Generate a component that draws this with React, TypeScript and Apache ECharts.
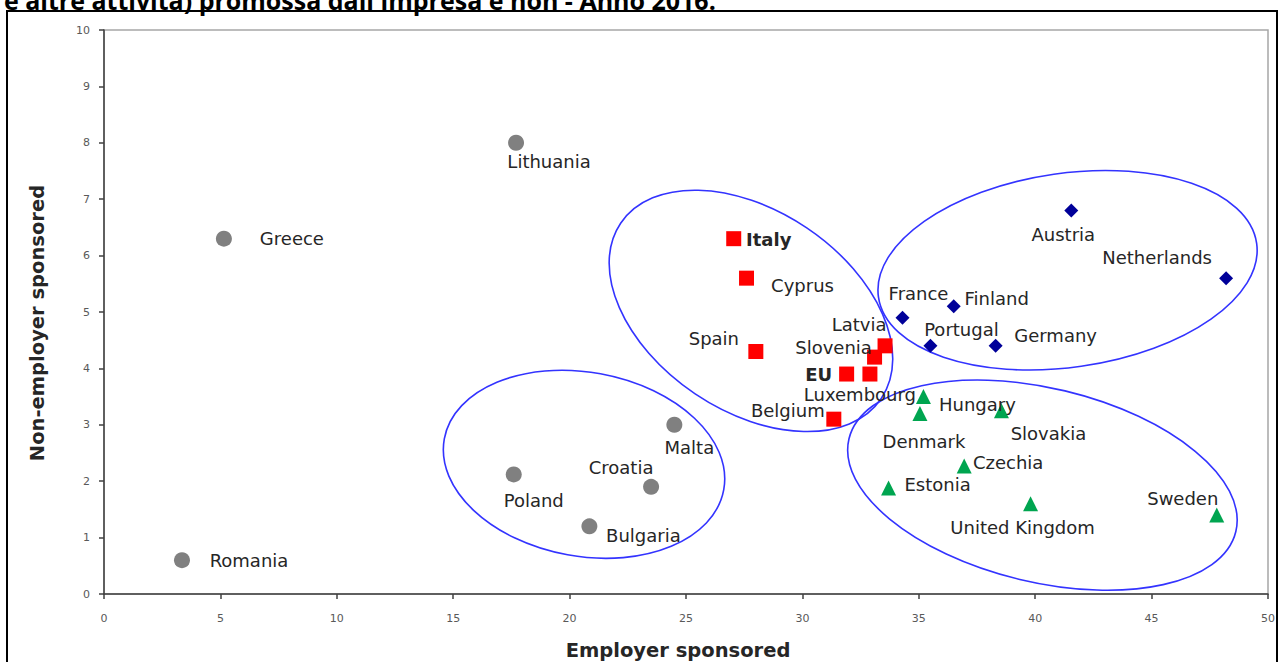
import React, { useEffect, useRef } from "react";
import * as echarts from "echarts";

// ---- data ----
const otherNames = ["Lithuania", "Greece", "Romania", "Malta", "Croatia", "Poland", "Bulgaria"];
const otherX = [17.7, 5.15, 3.35, 24.5, 23.5, 17.6, 20.85];
const otherY = [8.0, 6.3, 0.6, 3.0, 1.9, 2.12, 1.2];

const southNames = ["Italy", "Cyprus", "Spain", "Latvia", "Slovenia", "Luxembourg", "EU", "Belgium"];
const southX = [27.05, 27.6, 28.0, 33.55, 33.1, 32.9, 31.9, 31.35];
const southY = [6.3, 5.6, 4.3, 4.4, 4.2, 3.9, 3.9, 3.1];

const westNames = ["Austria", "Netherlands", "France", "Finland", "Portugal", "Germany"];
const westX = [41.55, 48.2, 34.3, 36.5, 35.5, 38.3];
const westY = [6.8, 5.6, 4.9, 5.1, 4.4, 4.4];

const nordicNames = ["Hungary", "Denmark", "Slovakia", "Czechia", "Estonia", "United Kingdom", "Sweden"];
const nordicX = [35.2, 35.05, 38.55, 36.95, 33.7, 39.8, 47.8];
const nordicY = [3.5, 3.2, 3.25, 2.27, 1.88, 1.6, 1.4];

const xTicks = [0, 50, 5];
const yTicks = [0, 10, 1];

const titleText = "e altre attività) promossa dall'impresa e non - Anno 2016.";
const xTitle = "Employer sponsored";
const yTitle = "Non-employer sponsored";
const boldNames = ["Italy", "EU"];

// label placement (pixel offsets of label centre from the marker)
const labelOffsets: Record<string, [number, number]> = {
  Lithuania: [33, 19], Greece: [68, 0], Romania: [67, 0], Malta: [15, 23], Croatia: [-30, -19],
  Poland: [20, 26], Bulgaria: [54, 9], Italy: [35, 1], Cyprus: [56, 7], Spain: [-42, -13],
  Latvia: [-26, -21], Slovenia: [-41, -10], Luxembourg: [-10, 20], EU: [-28, 0], Belgium: [-46, -9],
  Austria: [-8, 24], Netherlands: [-69, -21], France: [16, -24], Finland: [43, -8], Portugal: [31, -16],
  Germany: [60, -10], Hungary: [54, 8], Denmark: [4, 28], Slovakia: [47, 23], Czechia: [44, -3],
  Estonia: [49, -3], "United Kingdom": [-8, 24], Sweden: [-34, -17],
};

// cluster ellipses: centre in data units, radii in px, tilt in degrees (counter-clockwise +)
const ellipseCx = [20.62, 27.79, 41.39, 40.31];
const ellipseCy = [2.3, 5.02, 5.74, 1.93];
const ellipseRx = [142, 157, 191, 199];
const ellipseRy = [92, 100, 97, 97];
const ellipseTilt = [-10.3, -33.9, 8.1, -13.5];

const LABEL_FONT = "DejaVu Sans";

function makeSeries(names: string[], xs: number[], ys: number[], symbol: string, size: number, color: string) {
  return {
    type: "scatter",
    symbol,
    symbolSize: size,
    itemStyle: { color, opacity: 1 },
    label: {
      show: true,
      position: "inside",
      align: "center",
      verticalAlign: "middle",
      formatter: (p: any) => p.name,
      color: "#262626",
      fontFamily: LABEL_FONT,
      fontSize: 18,
    },
    emphasis: { disabled: true },
    data: names.map((n, i) => ({
      name: n,
      value: [xs[i], ys[i]],
      label: {
        offset: labelOffsets[n] || [0, 0],
        fontWeight: boldNames.includes(n) ? "bold" : "normal",
      },
    })),
  };
}

export default function App() {
  const ref = useRef<HTMLDivElement>(null);
  useEffect(() => {
    if (!ref.current) return;
    const chart = echarts.init(ref.current, undefined, { renderer: "svg" });
    const option: any = {
      animation: false,
      backgroundColor: "#ffffff",
      grid: {
        left: 104, right: 14, top: 30, bottom: 68,
        show: true, borderColor: "#A6A6A6", borderWidth: 1.5, backgroundColor: "transparent",
      },
      xAxis: {
        type: "value", min: xTicks[0], max: xTicks[1], interval: xTicks[2],
        axisLine: { show: true, onZero: false, lineStyle: { color: "#404040", width: 1.5 } },
        axisTick: { show: true, length: 5, lineStyle: { color: "#404040", width: 1.5 } },
        axisLabel: { color: "#595959", fontFamily: LABEL_FONT, fontSize: 11, margin: 19 },
        splitLine: { show: false },
      },
      yAxis: {
        type: "value", min: yTicks[0], max: yTicks[1], interval: yTicks[2],
        axisLine: { show: true, onZero: false, lineStyle: { color: "#404040", width: 1.5 } },
        axisTick: { show: true, length: 5, lineStyle: { color: "#404040", width: 1.5 } },
        axisLabel: { color: "#595959", fontFamily: LABEL_FONT, fontSize: 11, margin: 14 },
        splitLine: { show: false },
      },
      series: [
        makeSeries(otherNames, otherX, otherY, "circle", 16, "#808080"),
        makeSeries(southNames, southX, southY, "rect", 15, "#FF0000"),
        makeSeries(westNames, westX, westY, "diamond", 14, "#000099"),
        makeSeries(nordicNames, nordicX, nordicY, "triangle", 15, "#00A550"),
      ],
    };
    chart.setOption(option);

    const ellipses = ellipseCx.map((cx, i) => {
      const p = chart.convertToPixel({ gridIndex: 0 }, [cx, ellipseCy[i]]) as number[];
      return {
        type: "ellipse",
        x: p[0], y: p[1],
        rotation: (ellipseTilt[i] * Math.PI) / 180,
        shape: { cx: 0, cy: 0, rx: ellipseRx[i], ry: ellipseRy[i] },
        style: { fill: "none", stroke: "#3333FF", lineWidth: 1.6 },
        z: 1,
        silent: true,
      };
    });

    chart.setOption({
      graphic: [
        {
          type: "rect", shape: { x: 7, y: 11, width: 1270, height: 700 },
          style: { fill: "none", stroke: "#000000", lineWidth: 2 }, silent: true, z: 0,
        },
        {
          type: "text", x: 4, y: 12,
          style: {
            text: titleText, fill: "#000000", fontFamily: "Open Sans", fontWeight: "bold",
            fontSize: 25, textAlign: "left", textVerticalAlign: "bottom",
          },
          silent: true,
        },
        {
          type: "text", x: 678, y: 650,
          style: {
            text: xTitle, fill: "#262626", fontFamily: LABEL_FONT, fontWeight: "bold",
            fontSize: 19.5, textAlign: "center", textVerticalAlign: "middle",
          },
          silent: true,
        },
        {
          type: "text", x: 37, y: 323, rotation: Math.PI / 2,
          style: {
            text: yTitle, fill: "#262626", fontFamily: LABEL_FONT, fontWeight: "bold",
            fontSize: 19.5, textAlign: "center", textVerticalAlign: "middle",
          },
          silent: true,
        },
        ...ellipses,
      ],
    });

    return () => chart.dispose();
  }, []);
  return (
    <div
      ref={ref}
      style={{ position: "absolute", left: 0, top: 0, width: 1282, height: 662, background: "#fff" }}
    />
  );
}
